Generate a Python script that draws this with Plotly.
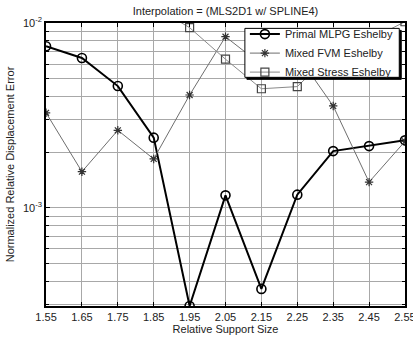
import plotly.graph_objects as go
import numpy as np

x_vals = [1.55, 1.65, 1.75, 1.85, 1.95, 2.05, 2.15, 2.25, 2.35, 2.45, 2.55]
primal_mlpg = [7.48e-3, 6.47e-3, 4.56e-3, 2.40e-3, 2.95e-4, 1.17e-3, 3.65e-4, 1.18e-3, 2.03e-3, 2.16e-3, 2.32e-3]
mixed_fvm = [3.27e-3, 1.57e-3, 2.63e-3, 1.84e-3, 4.08e-3, 8.43e-3, 5.95e-3, 6.74e-3, 3.56e-3, 1.38e-3, 2.29e-3]
mixed_stress = [None, None, None, 1.23e-2, 9.44e-3, 6.37e-3, 4.41e-3, 4.53e-3, 7.0e-3, 8.1e-3, 1.016e-2]

x_ticks = [1.55, 1.65, 1.75, 1.85, 1.95, 2.05, 2.15, 2.25, 2.35, 2.45, 2.55]
x_ticktext = ["1.55", "1.65", "1.75", "1.85", "1.95", "2.05", "2.15", "2.25", "2.35", "2.45", "2.55"]

y_major = [1e-3, 1e-2]
y_ticktext = ["10<sup>-3</sup>", "10<sup>-2</sup>"]
y_minor = [3e-4, 4e-4, 5e-4, 6e-4, 7e-4, 8e-4, 9e-4, 2e-3, 3e-3, 4e-3, 5e-3, 6e-3, 7e-3, 8e-3, 9e-3]

FONT = "Liberation Sans, Arial, sans-serif"
GRID = "#a8a8a8"

fig = go.Figure()
fig.add_trace(go.Scatter(
    x=x_vals, y=primal_mlpg, mode="lines+markers", name="Primal MLPG Eshelby",
    line=dict(color="black", width=2),
    marker=dict(symbol="circle-open", size=9, color="black", line=dict(width=1.6, color="black")),
))
fig.add_trace(go.Scatter(
    x=x_vals, y=mixed_fvm, mode="lines+markers", name="Mixed FVM Eshelby",
    line=dict(color="#6e6e6e", width=1),
    marker=dict(symbol="asterisk-open", size=7, color="#333333", line=dict(width=1.2, color="#333333")),
))
fig.add_trace(go.Scatter(
    x=x_vals, y=mixed_stress, mode="lines+markers", name="Mixed Stress Eshelby",
    line=dict(color="#8a8a8a", width=1),
    marker=dict(symbol="square-open", size=8, color="#444444", line=dict(width=1.2, color="#444444")),
    connectgaps=False,
))

# legend box (white with shadow) drawn as shapes above the traces
lx0, lx1, ly0, ly1 = 0.554, 0.984, 0.808, 0.981
sx, sy = 2.0 / 359, 2.0 / 283
fig.add_shape(type="rect", xref="paper", yref="paper", x0=lx0 + sx, x1=lx1 + sx, y0=ly0 - sy, y1=ly1 - sy,
              fillcolor="black", line=dict(color="black", width=1), layer="above")
fig.add_shape(type="rect", xref="paper", yref="paper", x0=lx0, x1=lx1, y0=ly0, y1=ly1,
              fillcolor="white", opacity=1, line=dict(color="black", width=1), layer="above")

fig.update_layout(
    width=413, height=338,
    margin=dict(l=46, r=8, t=23, b=32, autoexpand=False),
    paper_bgcolor="white", plot_bgcolor="white",
    font=dict(family=FONT, size=11, color="#222222"),
    title=dict(text="Interpolation = (MLS2D1 w/ SPLINE4)", x=0.5, xref="paper", y=0.968, yref="container",
               xanchor="center", yanchor="middle", font=dict(size=11, family=FONT, color="#222222")),
    showlegend=True,
    legend=dict(x=0.554, y=1.012, xanchor="left", yanchor="top", bgcolor="rgba(0,0,0,0)",
                borderwidth=0, font=dict(size=11, family=FONT),
                itemwidth=30, tracegroupgap=0),
)
fig.update_xaxes(
    range=[1.5499, 2.5501], tickvals=x_ticks, ticktext=x_ticktext, ticklabeloverflow="allow",
    automargin=False,
    showgrid=True, gridcolor=GRID, gridwidth=1,
    showline=True, linecolor="black", linewidth=1.5, mirror="ticks",
    ticks="inside", ticklen=4, tickcolor="black",
    zeroline=False,
    title=dict(text="Relative Support Size", standoff=2, font=dict(size=11)),
)
fig.update_yaxes(
    type="log", range=[np.log10(2.95e-4), -2], tickvals=y_major, ticktext=y_ticktext,
    automargin=False,
    showgrid=True, gridcolor=GRID, gridwidth=1,
    minor=dict(tickmode="array", tickvals=y_minor, showgrid=True, gridcolor=GRID, gridwidth=1,
               ticks="inside", ticklen=3, tickcolor="black"),
    showline=True, linecolor="black", linewidth=1.5, mirror="ticks",
    ticks="inside", ticklen=4, tickcolor="black",
    zeroline=False,
    title=dict(text="Normalized Relative Displacement Error", standoff=6, font=dict(size=11)),
)
fig.write_html("out.html")
